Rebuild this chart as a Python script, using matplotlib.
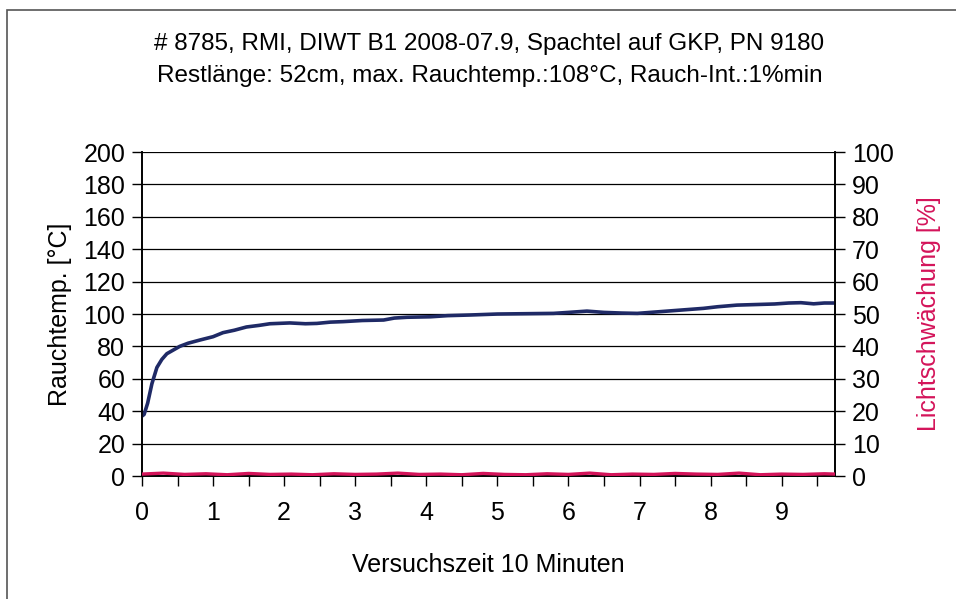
import numpy as np
import matplotlib.pyplot as plt
from matplotlib.patches import Rectangle

plt.rcParams['font.family'] = ['Liberation Sans', 'DejaVu Sans']

# Rauchtemperatur (°C) over Versuchszeit
time_temp = [0.0, 0.03, 0.08, 0.14, 0.21, 0.28, 0.35, 0.45, 0.53, 0.65, 0.82, 1.0,
             1.14, 1.3, 1.47, 1.65, 1.8, 2.08, 2.3, 2.46, 2.65, 2.83, 3.1, 3.4,
             3.55, 3.73, 4.06, 4.3, 4.62, 5.0, 5.4, 5.79, 6.0, 6.26, 6.5, 6.75,
             6.97, 7.3, 7.6, 7.9, 8.1, 8.37, 8.6, 8.9, 9.1, 9.27, 9.45, 9.6, 9.73]
temp = [37, 38, 45, 57, 67, 72, 75.5, 78, 80, 82, 84, 86,
        88.5, 90, 92, 93, 94, 94.5, 94, 94.2, 95, 95.3, 96, 96.3,
        97.5, 98, 98.3, 99, 99.4, 100, 100.2, 100.4, 101, 101.8, 101, 100.6,
        100.4, 101.5, 102.5, 103.5, 104.5, 105.5, 105.8, 106.2, 106.8, 107, 106.3, 106.8, 106.8]

# Lichtschwächung (%) - stays near zero
time_light = [0.0, 0.3, 0.6, 0.9, 1.2, 1.5, 1.8, 2.1, 2.4, 2.7, 3.0, 3.3, 3.6, 3.9,
              4.2, 4.5, 4.8, 5.1, 5.4, 5.7, 6.0, 6.3, 6.6, 6.9, 7.2, 7.5, 7.8,
              8.1, 8.4, 8.7, 9.0, 9.3, 9.6, 9.75]
light = [0.6, 0.9, 0.5, 0.7, 0.4, 0.8, 0.5, 0.6, 0.4, 0.7, 0.5, 0.6, 0.9, 0.5,
         0.6, 0.4, 0.8, 0.5, 0.4, 0.7, 0.5, 0.9, 0.4, 0.6, 0.5, 0.8, 0.6,
         0.5, 0.9, 0.4, 0.6, 0.5, 0.7, 0.6]

title_lines = ["# 8785, RMI, DIWT B1 2008-07.9, Spachtel auf GKP, PN 9180",
               "Restlänge: 52cm, max. Rauchtemp.:108°C, Rauch-Int.:1%min"]

BLUE = '#1f2a66'
RED = '#d4145a'
FS = 18

fig = plt.figure(figsize=(9.56, 5.99), dpi=100)
ax = fig.add_axes([0.1485, 0.2053, 0.8734 - 0.1485, 0.7462 - 0.2053])
ax2 = ax.twinx()

# page border of the scan
fig.patches.append(Rectangle((7 / 956, -0.1), 1.2, 1.1 - 10 / 599, transform=fig.transFigure,
                             fill=False, edgecolor='#555555', linewidth=1.2))

ax.set_xlim(0, 9.75)
ax.set_ylim(0, 200)
ax2.set_ylim(0, 100)

ax.set_yticks(np.arange(0, 201, 20))
ax2.set_yticks(np.arange(0, 101, 10))
ax.set_xticks(np.arange(0, 10, 1))
ax.set_xticks(np.arange(0.5, 9.75, 1), minor=True)

ax.grid(axis='y', color='black', linewidth=0.9)
ax.set_axisbelow(True)

ax.plot(time_temp, temp, color=BLUE, linewidth=2.6, zorder=3)
ax2.plot(time_light, light, color=RED, linewidth=2.4, zorder=3)

for a in (ax, ax2):
    for s in a.spines.values():
        s.set_linewidth(1.2)
    a.spines['top'].set_visible(False)

ax.tick_params(axis='both', which='both', direction='out', length=7, width=1, labelsize=FS, pad=5)
ax.tick_params(axis='x', which='both', length=7, pad=11)
ax2.tick_params(axis='y', direction='out', length=7, width=1, labelsize=FS, pad=5)

ax.set_ylabel("Rauchtemp. [°C]", fontsize=FS, labelpad=8)
ax2.set_ylabel("Lichtschwächung [%]", fontsize=FS, color=RED, labelpad=17)
ax.set_xlabel("Versuchszeit 10 Minuten", fontsize=FS, labelpad=20)

fig.text(0.512, 1 - 44 / 599, title_lines[0], ha='center', va='center', fontsize=17.5)
fig.text(0.512, 1 - 76 / 599, title_lines[1], ha='center', va='center', fontsize=17.5)

fig.savefig("out.png", dpi=100)
